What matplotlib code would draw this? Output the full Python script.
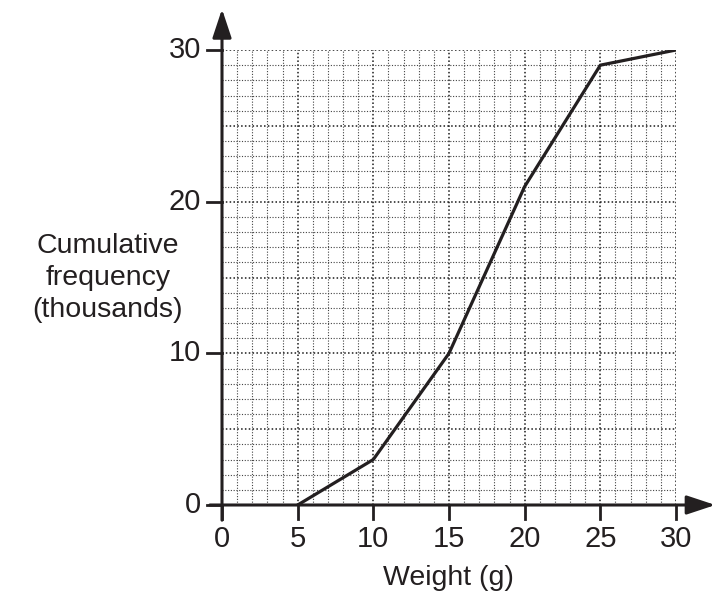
import numpy as np
import matplotlib.pyplot as plt

plt.rcParams['font.family'] = ['Liberation Sans', 'DejaVu Sans']

weight = [5, 10, 15, 20, 25, 30]
cum_freq = [0, 3, 10, 21, 29, 30]
x_ticks = [0, 5, 10, 15, 20, 25, 30]
y_ticks = [0, 10, 20, 30]

fig = plt.figure(figsize=(7.17, 5.96), dpi=100)
ax = fig.add_axes([222/717, 1-505/596, 454/717, 455/596])
ax.set_xlim(0, 30)
ax.set_ylim(0, 30)

# graph paper grid
for v in range(1, 31):
    major = v % 5 == 0
    c = '#1a1a1a' if major else '#444444'
    lw = 1.1 if major else 0.8
    ax.axvline(v, color=c, lw=lw, ls=(0, (1, 1.5)), zorder=1)
    ax.axhline(v, color=c, lw=lw, ls=(0, (1, 1.5)), zorder=1)

ax.plot(weight, cum_freq, color='#231f20', lw=2.3, zorder=3)

for s in ax.spines.values():
    s.set_visible(False)
ax.set_xticks([])
ax.set_yticks([])

# axes with arrows
arrow = dict(arrowstyle='-|>,head_length=1.75,head_width=0.58',
             color='#231f20', lw=2.2, shrinkA=0, shrinkB=0)
ax.annotate('', xy=(32.6, 0), xytext=(-0.8, 0), arrowprops=arrow, annotation_clip=False)
ax.annotate('', xy=(0, 32.7), xytext=(0, -1.0), arrowprops=arrow, annotation_clip=False)

for t in x_ticks:
    ax.plot([t, t], [0, -0.9], color='#231f20', lw=2.0, clip_on=False, zorder=4)
    ax.text(t, -1.3, str(t), ha='center', va='top', fontsize=21, color='#231f20')
for t in y_ticks:
    ax.plot([-1.0, 0], [t, t], color='#231f20', lw=2.0, clip_on=False, zorder=4)
    ax.text(-1.4, t, str(t), ha='right', va='center', fontsize=21, color='#231f20')

fig.text(448/717, 1-578/596, 'Weight (g)', ha='center', va='center', fontsize=20.5, color='#231f20')
fig.text(108/717, 1-278/596, 'Cumulative\nfrequency\n(thousands)', ha='center', va='center',
         fontsize=20.5, color='#231f20', linespacing=1.3)

fig.savefig('out.png', dpi=100)
